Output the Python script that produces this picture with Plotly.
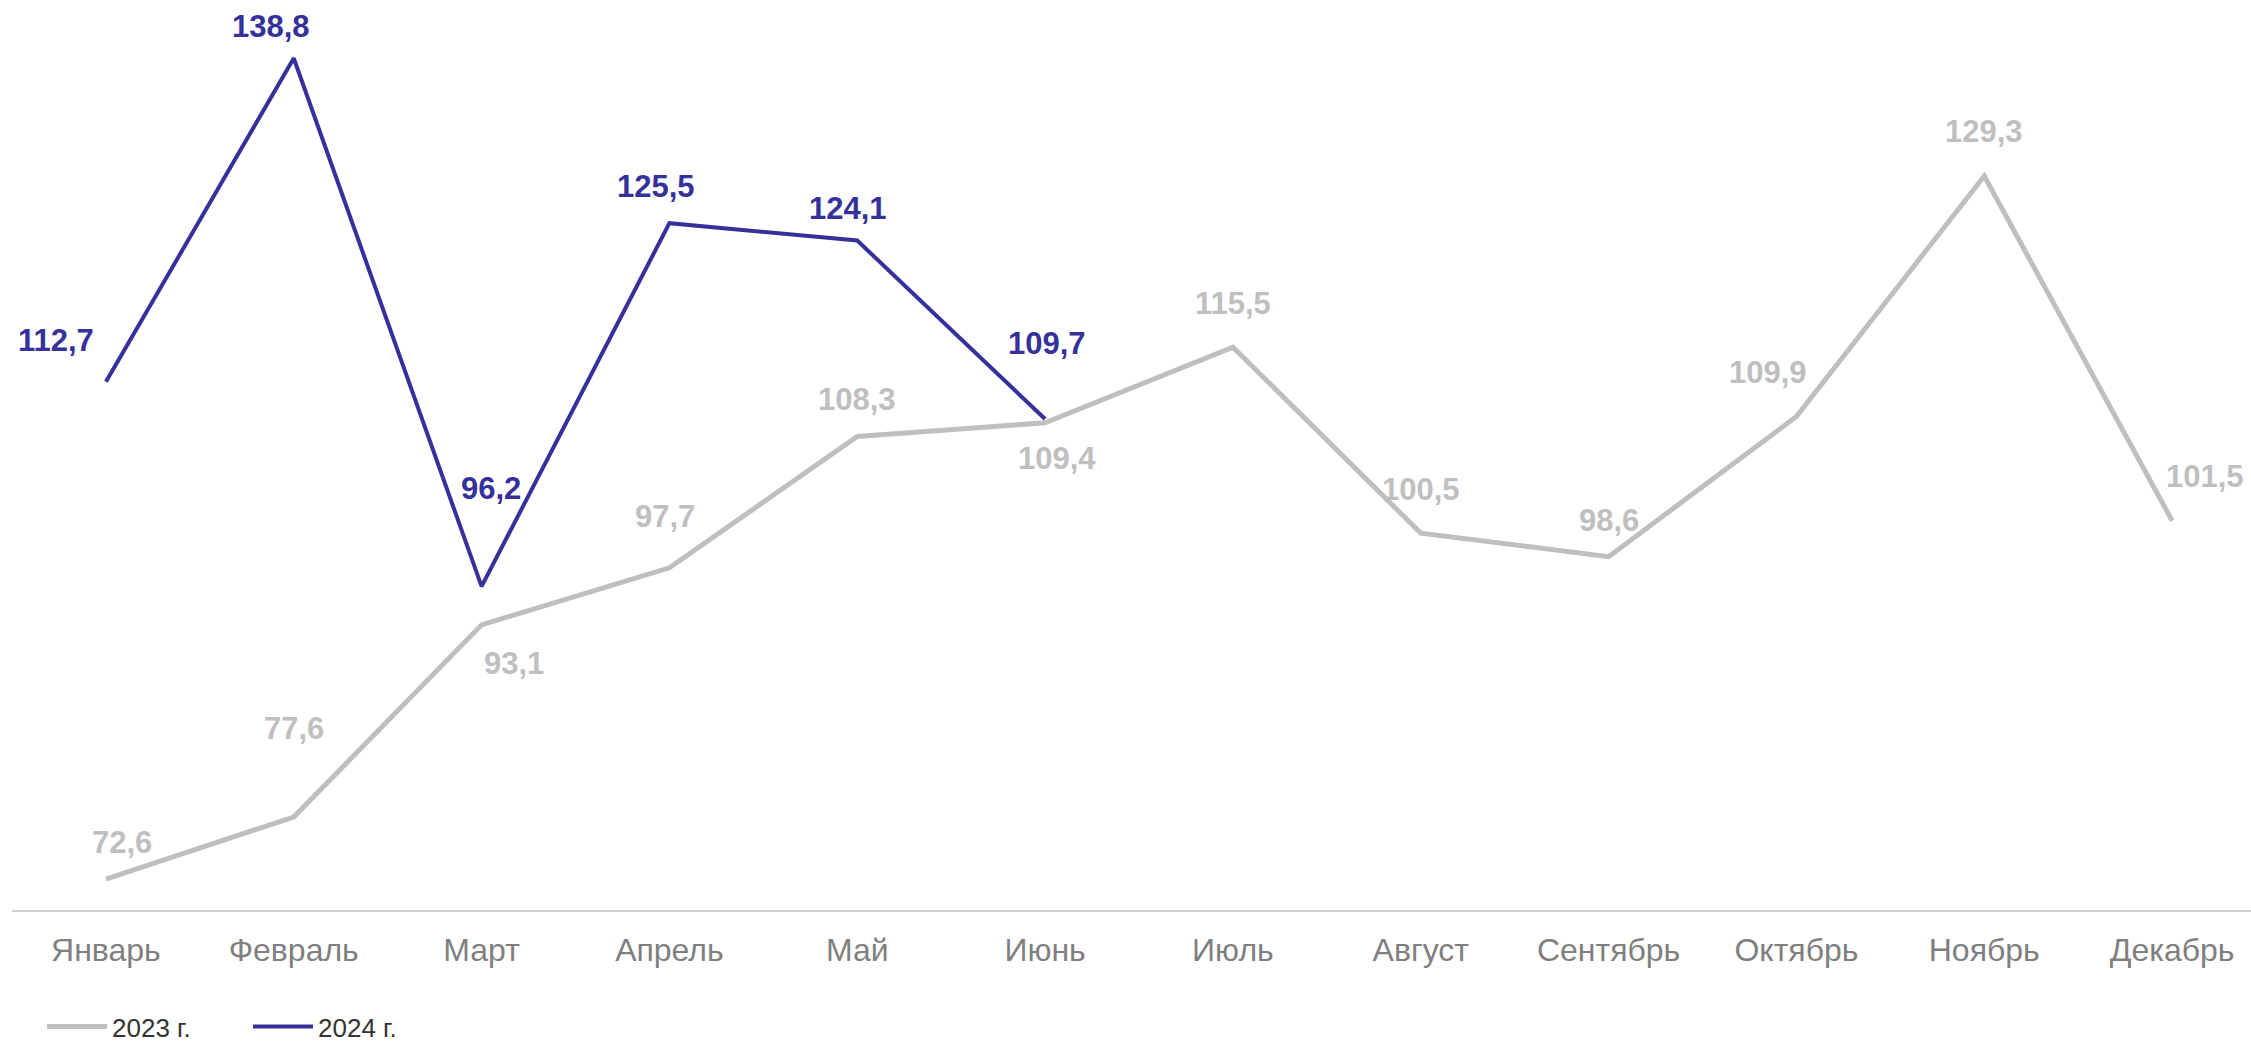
import plotly.graph_objects as go

months = ["Январь", "Февраль", "Март", "Апрель", "Май", "Июнь",
          "Июль", "Август", "Сентябрь", "Октябрь", "Ноябрь", "Декабрь"]
values_2023 = [72.6, 77.6, 93.1, 97.7, 108.3, 109.4, 115.5, 100.5, 98.6, 109.9, 129.3, 101.5]
values_2024 = [112.7, 138.8, 96.2, 125.5, 124.1, 109.7]
series_names = ["2023 г.", "2024 г."]

# label offsets in pixels (style, not data)
off_2023 = [(16, 37), (0, 89), (32, -39), (-4, 51), (0, 37), (12, -36),
            (0, 44), (0, 44), (0, 36), (-28, 44), (0, 45), (33, 44)]
off_2024 = [(-50, 41), (-23, 32), (9, 98), (-13, 37), (-9, 32), (2, 76)]

GRAY = "#bfbfbf"
BLUE = "#35319a"
FONT = "Liberation Sans, Arial, sans-serif"

fig = go.Figure()
fig.add_trace(go.Scatter(x=months, y=values_2023, mode="lines", name=series_names[0],
                         line=dict(color=GRAY, width=5), hoverinfo="skip"))
fig.add_trace(go.Scatter(x=months[:len(values_2024)], y=values_2024, mode="lines",
                         name=series_names[1], line=dict(color=BLUE, width=4), hoverinfo="skip"))

def fmt(v):
    return f"{v:.1f}".replace(".", ",")

for m, v, (dx, dy) in zip(months, values_2023, off_2023):
    fig.add_annotation(x=m, y=v, text=fmt(v), showarrow=False, xshift=dx, yshift=dy,
                       font=dict(family=FONT, size=31, color=GRAY, weight="bold"))
for m, v, (dx, dy) in zip(months, values_2024, off_2024):
    fig.add_annotation(x=m, y=v, text=fmt(v), showarrow=False, xshift=dx, yshift=dy,
                       font=dict(family=FONT, size=31, color=BLUE, weight="bold"))

fig.update_layout(
    width=2251, height=1045,
    margin=dict(l=12, r=0, t=0, b=135, autoexpand=False),
    paper_bgcolor="white", plot_bgcolor="white",
    font=dict(family=FONT),
    showlegend=True,
    legend=dict(orientation="h", x=0.0134, y=-0.128, xanchor="left", yanchor="middle",
                font=dict(family=FONT, size=26, color="#333333"),
                itemwidth=60, entrywidth=131, entrywidthmode="pixels",
                tracegroupgap=0, bgcolor="rgba(0,0,0,0)"),
    xaxis=dict(type="category", range=[-0.5, 11.42], showgrid=False, zeroline=False,
               showline=True, linecolor="#d0d0d0", linewidth=2, ticks="",
               automargin=False, ticklabelstandoff=11,
               tickfont=dict(family=FONT, size=32, color="#7f7f7f")),
    yaxis=dict(range=[70.1, 143.5], visible=False, showgrid=False, zeroline=False,
               automargin=False),
)

fig.write_html("out.html", config={"displayModeBar": False},
               post_script="document.body.style.margin='0';document.body.style.overflow='hidden';")
